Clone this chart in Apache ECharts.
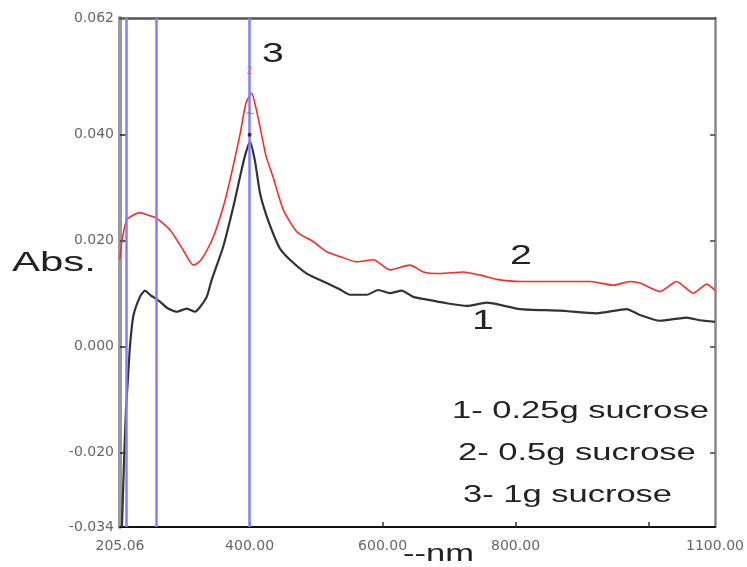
<!DOCTYPE html>
<html>
<head>
<meta charset="utf-8">
<script src="https://cdn.jsdelivr.net/npm/echarts@6/dist/echarts.min.js"></script>
<style>html,body{margin:0;padding:0;background:#fff}#c{width:747px;height:567px}</style>
</head>
<body>
<div id="c"></div>
<script>
// Curve 1 (0.25 g sucrose) - black
var wl1 = [208, 211, 214, 217, 220, 225, 235, 242.7, 250.2, 265.2, 277.3, 290.3, 305.4, 317.9, 325.4, 335.5, 343, 360.4, 375.5, 385.5, 393, 400.6, 408.1, 415.6, 424.6, 435.2, 445.7, 460.7, 485.9, 516, 536, 551, 576.1, 593.5, 611.1, 628.7, 646.2, 671.3, 696.4, 726.5, 756.6, 776.6, 806.7, 866.8, 922, 967.1, 987.1, 1017.2, 1057.4, 1077.4, 1100];
var abs1 = [-0.034, -0.022, -0.012, -0.006, 0.000, 0.0057, 0.0094, 0.0106, 0.0098, 0.0085, 0.0072, 0.0066, 0.0072, 0.0066, 0.0075, 0.0094, 0.0126, 0.0189, 0.0264, 0.032, 0.036, 0.0387, 0.035, 0.029, 0.025, 0.0214, 0.0185, 0.0164, 0.0138, 0.012, 0.0108, 0.0098, 0.0098, 0.0107, 0.0101, 0.0106, 0.0094, 0.0088, 0.0082, 0.0077, 0.0083, 0.0079, 0.0071, 0.0068, 0.0063, 0.0071, 0.006, 0.0049, 0.0055, 0.005, 0.0047];
// Curve 2 (0.5 g sucrose) - red
var wl2 = [205.06, 208, 215.1, 224.6, 235.1, 247.2, 260.3, 280.3, 300.3, 315.3, 322.4, 330.3, 345.4, 360.4, 370.5, 385.5, 394.6, 403.1, 409.6, 415.6, 424.6, 435.2, 450.7, 470.8, 495.8, 516, 536, 561.1, 586, 611.1, 641.2, 661.2, 686.3, 721.4, 746.5, 771.6, 806.7, 912, 947.1, 972.1, 987.1, 1017.2, 1042.3, 1067.3, 1087.5, 1100];
var abs2 = [0.0165, 0.020, 0.0239, 0.0248, 0.0253, 0.0248, 0.0242, 0.022, 0.0182, 0.0154, 0.0158, 0.017, 0.0207, 0.0264, 0.0314, 0.040, 0.046, 0.0478, 0.045, 0.0415, 0.036, 0.032, 0.0258, 0.0217, 0.0198, 0.0179, 0.017, 0.016, 0.0164, 0.0145, 0.0154, 0.0141, 0.0138, 0.0141, 0.0135, 0.0127, 0.0123, 0.0123, 0.0116, 0.0123, 0.012, 0.0104, 0.0123, 0.0101, 0.0118, 0.0106];
// Cursor lines (nm)
var cursorLines = [215, 260, 400];
// Peak marker points (nm, Abs)
var peakMarkRed = [[400, 0.052]];
var peakMarkGray = [[400, 0.044]];
var peakDotBlack = [[400, 0.040]];
// Axis labels
var xLabelValues = [205.06, 400, 600, 800, 1100];
var xTickValues = [400, 600, 800, 1000];
var yLabelValues = [-0.034, -0.020, 0.000, 0.020, 0.040, 0.062];
var yTickValues = [-0.020, 0.000, 0.020, 0.040];
var legendTexts = ['1- 0.25g sucrose', '2- 0.5g sucrose', '3- 1g sucrose'];

function zip(a, b) { return a.map(function (v, i) { return [v, b[i]]; }); }

var chart = echarts.init(document.getElementById('c'));
var FONT = '"Liberation Sans", Arial, sans-serif';
function gtext(text, x, y, size, sx, color, vAlign) {
  return {
    type: 'text', x: x, y: y, scaleX: sx, z: 100,
    style: { text: text, font: size + 'px ' + FONT, fill: color || '#222', textAlign: 'left', textVerticalAlign: vAlign || 'middle', verticalAlign: vAlign || 'middle' }
  };
}
chart.setOption({
  animation: false,
  backgroundColor: '#fff',
  grid: { left: 120, top: 18, width: 595, height: 509, containLabel: false },
  xAxis: [{
    type: 'value', min: 205.06, max: 1100, position: 'bottom',
    axisLine: { show: true, onZero: false, lineStyle: { color: '#111', width: 2 } },
    axisTick: { show: true, inside: true, length: 5, customValues: xTickValues, lineStyle: { color: '#333', width: 1.5 } },
    axisLabel: { show: true, customValues: xLabelValues, margin: 12, color: '#666', fontSize: 14, fontFamily: '"DejaVu Sans", sans-serif',
      formatter: function (v) { return Number(v).toFixed(2); } },
    splitLine: { show: false }
  }, {
    type: 'value', min: 205.06, max: 1100, position: 'top',
    axisLine: { show: true, onZero: false, lineStyle: { color: '#555', width: 2.5 } },
    axisTick: { show: false }, axisLabel: { show: false }, splitLine: { show: false }
  }],
  yAxis: [{
    type: 'value', min: -0.034, max: 0.062, position: 'left',
    axisLine: { show: true, onZero: false, lineStyle: { color: '#999', width: 4 } },
    axisTick: { show: true, inside: true, length: 6, customValues: yTickValues, lineStyle: { color: '#222', width: 1.5 } },
    axisLabel: { show: true, customValues: yLabelValues, margin: 6, color: '#666', fontSize: 14, fontFamily: '"DejaVu Sans", sans-serif',
      formatter: function (v) { return Number(v).toFixed(3); } },
    splitLine: { show: false }
  }, {
    type: 'value', min: -0.034, max: 0.062, position: 'right',
    axisLine: { show: true, onZero: false, lineStyle: { color: '#888', width: 2.5 } },
    axisTick: { show: true, inside: true, length: 5, customValues: yTickValues, lineStyle: { color: '#444', width: 1.5 } },
    axisLabel: { show: false }, splitLine: { show: false }
  }],
  series: [{
    name: '2', type: 'line', data: zip(wl2, abs2), showSymbol: false, smooth: 0.2, z: 2,
    lineStyle: { color: '#ff2a2a', width: 1.6 }
  }, {
    name: '1', type: 'line', data: zip(wl1, abs1), showSymbol: false, smooth: 0.2, z: 3,
    lineStyle: { color: '#333', width: 2.2 },
    markLine: {
      silent: true, symbol: ['none', 'none'], label: { show: false }, z: 5,
      lineStyle: { color: '#7f7fff', width: 2.5, type: 'solid' },
      data: cursorLines.map(function (v) { return { xAxis: v }; })
    }
  }, {
    type: 'scatter', data: peakMarkRed, symbol: 'circle', symbolSize: 2, z: 6, silent: true,
    itemStyle: { color: 'rgba(0,0,0,0)' },
    label: { show: true, position: 'inside', formatter: '2', color: '#ff5050', fontSize: 10, fontFamily: FONT }
  }, {
    type: 'scatter', data: peakMarkGray, symbol: 'circle', symbolSize: 2, z: 6, silent: true,
    itemStyle: { color: 'rgba(0,0,0,0)' },
    label: { show: true, position: 'inside', formatter: '∼', color: '#666', fontSize: 12, fontFamily: FONT }
  }, {
    type: 'scatter', data: peakDotBlack, symbol: 'circle', symbolSize: 4, z: 6, silent: true,
    itemStyle: { color: '#111' }
  }],
  graphic: [
    gtext('Abs.', 12, 263, 28, 1.5),
    gtext('3', 262, 54, 28, 1.4),
    gtext('2', 510, 256, 28, 1.4),
    gtext('1', 472, 321, 28, 1.4),
    gtext(legendTexts[0], 452, 412, 23, 1.5),
    gtext(legendTexts[1], 458, 454, 23, 1.5),
    gtext(legendTexts[2], 463, 496, 23, 1.5),
    gtext('--nm', 403, 566, 23, 1.5, '#222', 'bottom')
  ]
});
</script>
</body>
</html>
